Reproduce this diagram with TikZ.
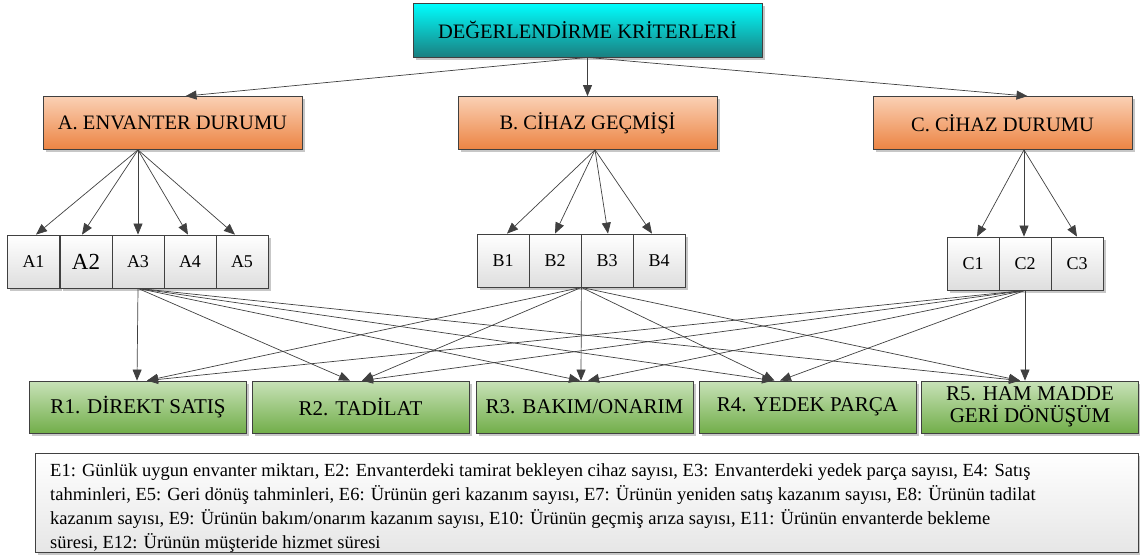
\documentclass[tikz,border=0pt]{standalone}
\usepackage{fontspec}
\setmainfont{Liberation Serif}
\usetikzlibrary{arrows.meta,shadows}
\definecolor{edge}{HTML}{404040}
\definecolor{cyanT}{HTML}{00FFFF}
\definecolor{cyanB}{HTML}{1A7F80}
\definecolor{orgT}{HTML}{FAD0B4}
\definecolor{orgB}{HTML}{EC8443}
\definecolor{grnT}{HTML}{C8E2B8}
\definecolor{grnB}{HTML}{72AE4A}
\definecolor{gryB}{HTML}{DEDEDE}
\definecolor{txtB}{HTML}{E6E6E6}
\begin{document}
\begin{tikzpicture}[x=1pt,y=-1pt,
  box/.style={draw=edge, line width=0.8pt, inner sep=0pt, align=center,
    drop shadow={shadow xshift=2.5pt,shadow yshift=-2.5pt,opacity=0.22,fill=black}},
  topbox/.style={box, top color=cyanT, bottom color=cyanB, minimum width=349pt, minimum height=54pt, font=\fontsize{20.5}{22}\selectfont},
  catbox/.style={box, top color=orgT, bottom color=orgB, minimum width=259pt, minimum height=53pt, font=\fontsize{20.5}{22}\selectfont},
  subbox/.style={box, top color=white, bottom color=gryB, minimum width=52pt, minimum height=53pt, font=\fontsize{18}{20}\selectfont},
  resbox/.style={box, top color=grnT, bottom color=grnB, minimum width=217pt, minimum height=52pt, font=\fontsize{21}{22}\selectfont},
  notebox/.style={box, top color=white, bottom color=txtB, minimum width=1103pt, minimum height=99pt},
  noteline/.style={anchor=base west, inner sep=0pt, font=\fontsize{18.5}{24}\selectfont},
  arr/.style={draw=edge, line width=0.7pt, -{Triangle[length=11pt,width=9pt]}}
]
\useasboundingbox (0,0) rectangle (1140,557);

% top
\node[topbox] (T) at (587.5,30) {DEĞERLENDİRME KRİTERLERİ};
% categories
\node[catbox] (A) at (172.5,123) {A. ENVANTER DURUMU};
\node[catbox] (B) at (587.5,123) {B. CİHAZ GEÇMİŞİ};
\node[catbox] (C) at (1002.5,123) {C. CİHAZ DURUMU};
% sub boxes
\node[subbox] (A1) at (33.5,261.5) {A1};
\node[subbox,font=\fontsize{23}{25}\selectfont] (A2) at (86,261.5) {A2};
\node[subbox] (A3) at (138,261.5) {A3};
\node[subbox] (A4) at (190,261.5) {A4};
\node[subbox] (A5) at (242,261.5) {A5};
\node[subbox] (B1) at (503,260.5) {B1};
\node[subbox] (B2) at (555,260.5) {B2};
\node[subbox] (B3) at (607,260.5) {B3};
\node[subbox] (B4) at (659,260.5) {B4};
\node[subbox] (C1) at (973,263.5) {C1};
\node[subbox] (C2) at (1025,263.5) {C2};
\node[subbox] (C3) at (1077,263.5) {C3};
% results
\node[resbox] (R1) at (138,407) {R1. DİREKT SATIŞ};
\node[resbox] (R2) at (360.5,407) {R2. TADİLAT};
\node[resbox] (R3) at (584.5,407) {R3. BAKIM/ONARIM};
\node[resbox] (R4) at (807.5,407) {R4. YEDEK PARÇA};
\node[resbox] (R5) at (1030,407) {R5. HAM MADDE\\GERİ DÖNÜŞÜM};
% note box
\node[notebox] (N) at (586.5,502.5) {};
\node[noteline] (N1) at (50,476) {E1: Günlük uygun envanter miktarı, E2: Envanterdeki tamirat bekleyen cihaz sayısı, E3: Envanterdeki yedek parça sayısı, E4: Satış};
\node[noteline] (N2) at (50,500) {tahminleri, E5: Geri dönüş tahminleri, E6: Ürünün geri kazanım sayısı, E7: Ürünün yeniden satış kazanım sayısı, E8: Ürünün tadilat};
\node[noteline] (N3) at (50,524) {kazanım sayısı, E9: Ürünün bakım/onarım kazanım sayısı, E10: Ürünün geçmiş arıza sayısı, E11: Ürünün envanterde bekleme};
\node[noteline] (N4) at (50,548) {süresi, E12: Ürünün müşteride hizmet süresi};

% top connectors
\draw[arr] (T.south) -- ([xshift=13pt]A.north);
\draw[arr] (T.south) -- (B.north);
\draw[arr] (T.south) -- ([xshift=25pt]C.north);
% A
\draw[arr] ([xshift=-34.5pt]A.south) -- ([xshift=2.5pt]A1.north);
\draw[arr] ([xshift=-34.5pt]A.south) -- ([xshift=-4pt]A2.north);
\draw[arr] ([xshift=-34.5pt]A.south) -- (A3.north);
\draw[arr] ([xshift=-34.5pt]A.south) -- ([xshift=-2pt]A4.north);
\draw[arr] ([xshift=-34.5pt]A.south) -- ([xshift=-7pt]A5.north);
% B
\draw[arr] ([xshift=7.5pt]B.south) -- ([xshift=4pt]B1.north);
\draw[arr] ([xshift=7.5pt]B.south) -- (B2.north);
\draw[arr] ([xshift=7.5pt]B.south) -- ([xshift=1pt]B3.north);
\draw[arr] ([xshift=7.5pt]B.south) -- ([xshift=-7pt]B4.north);
% C
\draw[arr] ([xshift=21.5pt]C.south) -- ([xshift=4pt]C1.north);
\draw[arr] ([xshift=21.5pt]C.south) -- ([xshift=-1pt]C2.north);
\draw[arr] ([xshift=21.5pt]C.south) -- (C3.north);
% A3 to results
\draw[arr] (A3.south) -- ([xshift=-1pt]R1.north);
\draw[arr] (A3.south) -- ([xshift=-10.5pt]R2.north);
\draw[arr] (A3.south) -- ([xshift=-4.5pt]R3.north);
\draw[arr] (A3.south) -- ([xshift=-34.5pt]R4.north);
\draw[arr] (A3.south) -- ([xshift=-10pt]R5.north);
% B group to results
\draw[arr] (B2.south east) -- ([xshift=9pt]R1.north);
\draw[arr] (B2.south east) -- ([xshift=1.5pt]R2.north);
\draw[arr] (B2.south east) -- ([xshift=-3.5pt]R3.north);
\draw[arr] (B2.south east) -- ([xshift=-33pt]R4.north);
\draw[arr] (B2.south east) -- ([xshift=-10pt]R5.north);
% C2 to results
\draw[arr] (C2.south) -- ([xshift=9pt]R1.north);
\draw[arr] (C2.south) -- ([xshift=1.5pt]R2.north);
\draw[arr] (C2.south) -- ([xshift=3.5pt]R3.north);
\draw[arr] (C2.south) -- ([xshift=-27.5pt]R4.north);
\draw[arr] (C2.south) -- ([xshift=-5pt]R5.north);
\end{tikzpicture}
\end{document}
